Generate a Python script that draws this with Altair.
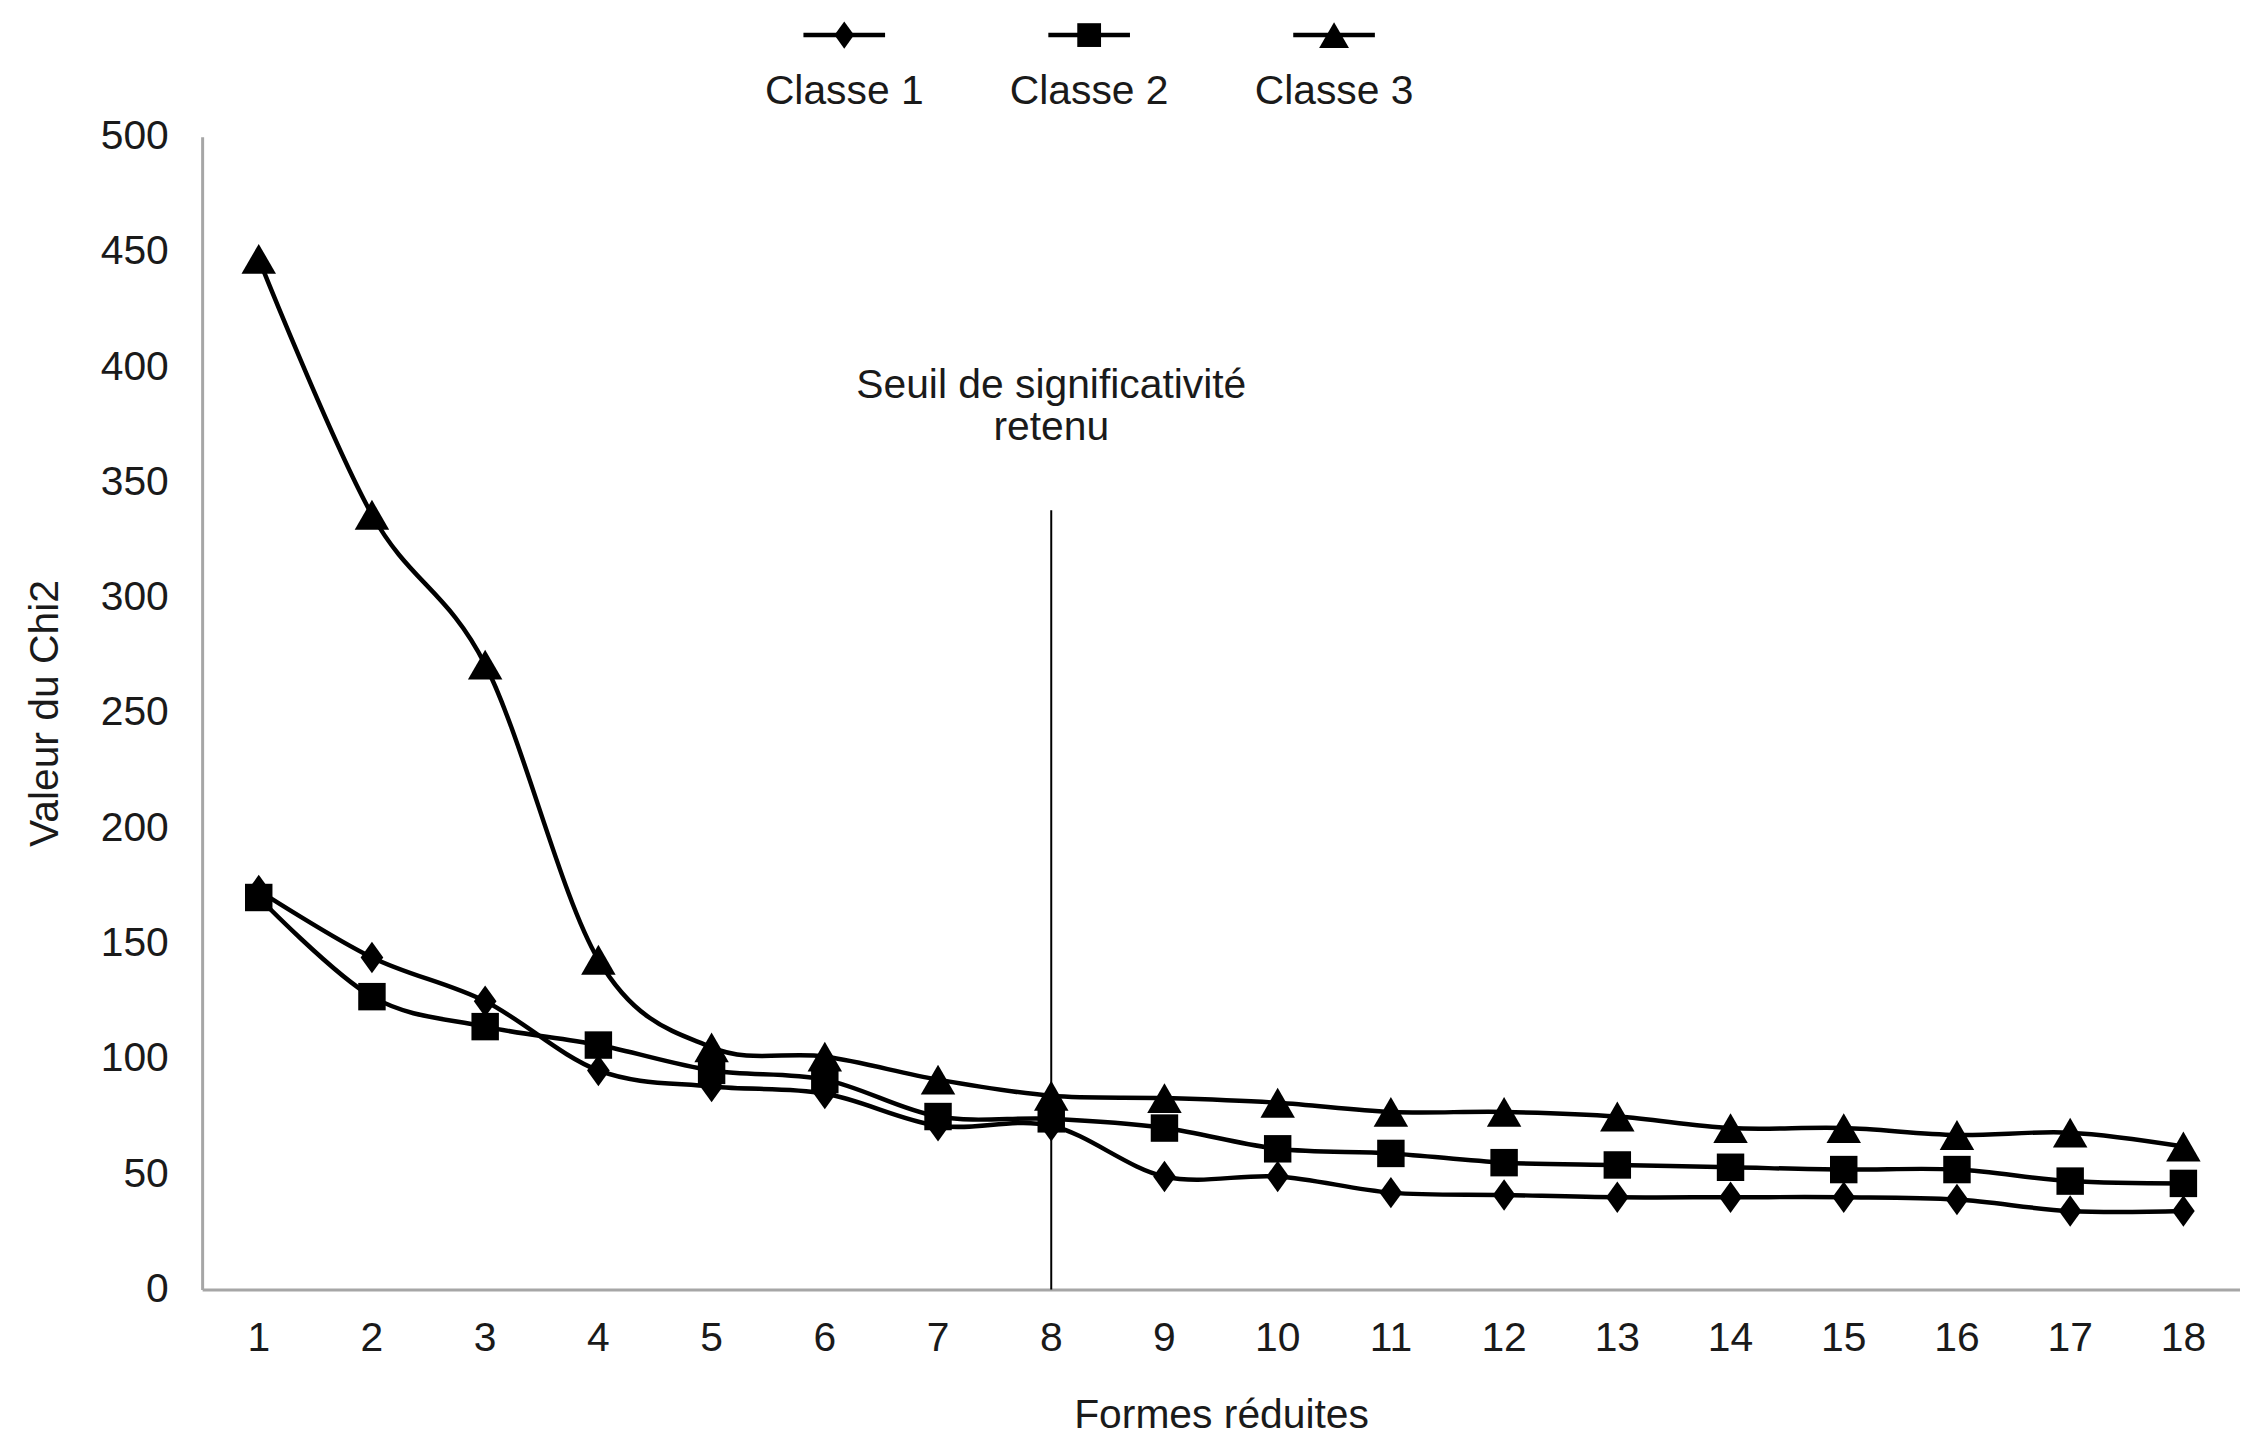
import altair as alt
import pandas as pd

formes = list(range(1, 19))
classes = ["Classe 1", "Classe 2", "Classe 3"]
classe1 = [173, 144, 125, 95, 88, 85, 71, 71, 49, 49, 42, 41, 40, 40, 40, 39, 34, 34]
classe2 = [170, 127, 114, 106, 95, 91, 75, 74, 70, 61, 59, 55, 54, 53, 52, 52, 47, 46]
classe3 = [447, 336, 271, 143, 105, 101, 91, 84, 83, 81, 77, 77, 75, 70, 70, 67, 68, 62]
y_ticks = [0, 50, 100, 150, 200, 250, 300, 350, 400, 450, 500]

seuil_forme = 8
seuil_haut = 338
seuil_texte = "Seuil de significativité\nretenu"
seuil_texte_y = 392

FONT = "Liberation Sans"
FS = 41
TXT = "#1a1a1a"

rows = []
for c, vals in zip(classes, [classe1, classe2, classe3]):
    for f, v in zip(formes, vals):
        rows.append({"forme": f, "classe": c, "chi2": v})
df = pd.DataFrame(rows)

diamond = "M0,-1L0.72,0L0,1L-0.72,0Z"
shapes = {"Classe 1": diamond, "Classe 2": "square", "Classe 3": "triangle-up"}
sizes = {"Classe 1": 1000, "Classe 2": 760, "Classe 3": 1200}

x_enc = alt.X("forme:O", scale=alt.Scale(domain=formes),
              axis=alt.Axis(title="Formes réduites", labelAngle=0, ticks=False,
                            labelFontSize=FS, labelPadding=29, labelColor=TXT,
                            titleFontSize=FS, titleFontWeight="normal", titlePadding=38,
                            titleColor=TXT, domainColor="#a6a6a6", domainWidth=3,
                            labelFont=FONT, titleFont=FONT))
y_enc = alt.Y("chi2:Q", scale=alt.Scale(domain=[0, 500], nice=False),
              axis=alt.Axis(title="Valeur du Chi2", values=y_ticks, ticks=False, grid=False,
                            labelFontSize=FS, labelPadding=34, labelColor=TXT,
                            titleFontSize=FS, titleFontWeight="normal", titlePadding=34,
                            titleColor=TXT, domainColor="#a6a6a6", domainWidth=3,
                            labelFont=FONT, titleFont=FONT))

base = alt.Chart(df)
lines = base.mark_line(interpolate="cardinal", strokeWidth=4.5, color="black").encode(
    x=x_enc, y=y_enc, detail="classe:N")

layers = [lines]
for c in classes:
    layers.append(
        base.transform_filter(alt.datum.classe == c).mark_point(
            filled=True, opacity=1, color="black", shape=shapes[c], size=sizes[c]
        ).encode(x=x_enc, y=y_enc)
    )

rule_df = pd.DataFrame({"forme": [seuil_forme], "chi2": [0], "chi2_haut": [seuil_haut],
                        "texte": [seuil_texte], "texte_y": [seuil_texte_y]})
rule = alt.Chart(rule_df).mark_rule(color="black", strokeWidth=2).encode(
    x=x_enc, y=y_enc, y2="chi2_haut:Q")
text = alt.Chart(rule_df).mark_text(
    font=FONT, fontSize=FS, color=TXT, lineBreak="\n", lineHeight=43,
    align="center", baseline="middle"
).encode(x=x_enc, y=alt.Y("texte_y:Q"), text="texte:N")

main = alt.layer(*layers, rule, text).properties(width=2047, height=1158)

leg_df = pd.DataFrame({"classe": classes})
leg_x = alt.X("classe:N", scale=alt.Scale(type="point", domain=classes, range=[645, 1137], padding=0),
              axis=None)
leg_lines = alt.Chart(leg_df).mark_rule(color="black", strokeWidth=4.5, xOffset=-41, x2Offset=41).encode(
    x=leg_x, x2="classe:N", y=alt.value(24))
leg_layers = [leg_lines]
for c in classes:
    leg_layers.append(
        alt.Chart(leg_df).transform_filter(alt.datum.classe == c).mark_point(
            filled=True, opacity=1, color="black", shape=shapes[c], size=sizes[c] * 0.75
        ).encode(x=leg_x, y=alt.value(24))
    )
leg_text = alt.Chart(leg_df).mark_text(font=FONT, fontSize=FS, color=TXT, baseline="middle").encode(
    x=leg_x, y=alt.value(81), text="classe:N")
legend = alt.layer(*leg_layers, leg_text).properties(width=2047, height=89)

chart = alt.vconcat(legend, main, spacing=4).properties(
    padding={"left": 16, "top": 0, "right": 0, "bottom": 0}
).configure(font=FONT).configure_view(stroke=None)

chart.save("out.html", embed_options={"renderer": "svg", "actions": False})
